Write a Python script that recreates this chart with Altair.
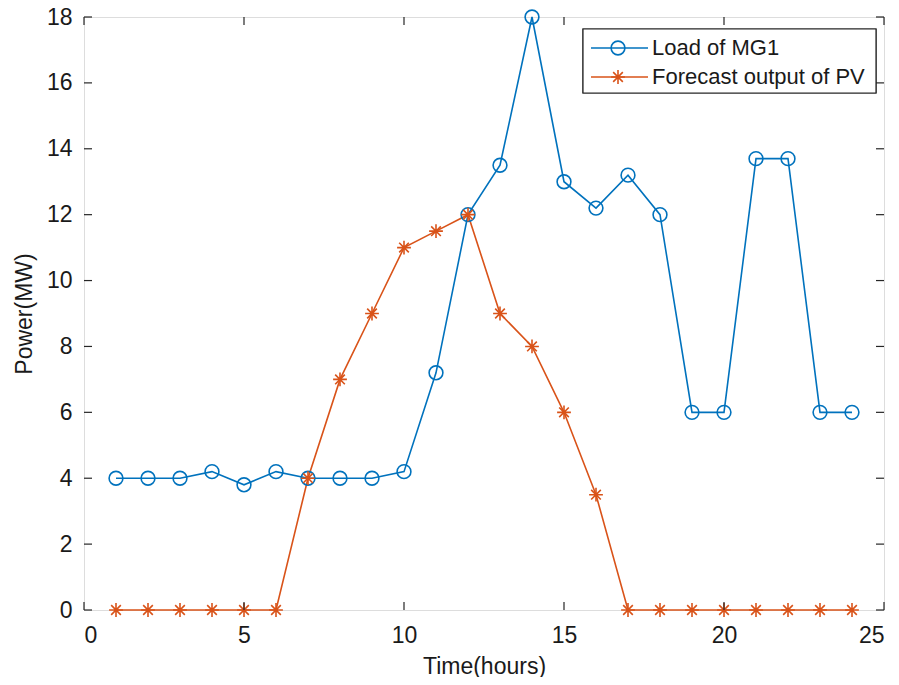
import altair as alt
import pandas as pd

hours = list(range(1, 25))
load_mg1 = [4, 4, 4, 4.2, 3.8, 4.2, 4, 4, 4, 4.2, 7.2, 12, 13.5, 18, 13, 12.2, 13.2, 12, 6, 6, 13.7, 13.7, 6, 6]
pv_forecast = [0, 0, 0, 0, 0, 0, 4, 7, 9, 11, 11.5, 12, 9, 8, 6, 3.5, 0, 0, 0, 0, 0, 0, 0, 0]
x_ticks = [0, 5, 10, 15, 20, 25]
y_ticks = [0, 2, 4, 6, 8, 10, 12, 14, 16, 18]
series_names = ["Load of MG1", "Forecast output of PV"]
colors = ["#0072BD", "#D95319"]

W, H = 800, 593
FONT = "Liberation Sans, Arial, sans-serif"
ASTERISK = "M0,-1L0,1M-1,0L1,0M-0.7,-0.7L0.7,0.7M-0.7,0.7L0.7,-0.7"
TXT = "#1a1a1a"

load_df = pd.DataFrame({"t": hours, "p": load_mg1})
pv_df = pd.DataFrame({"t": hours, "p": pv_forecast})

xs = alt.Scale(domain=[0, 25], nice=False)
ys = alt.Scale(domain=[0, 18], nice=False)

x_axis = alt.Axis(values=x_ticks, title="Time(hours)", tickSize=0, domain=False, grid=False,
                  labelPadding=14, titlePadding=8, labelFontSize=23, titleFontSize=23,
                  labelFont=FONT, titleFont=FONT, labelColor=TXT, titleColor=TXT,
                  titleFontWeight="normal")
y_axis = alt.Axis(values=y_ticks, title="Power(MW)", tickSize=0, domain=False, grid=False,
                  labelPadding=12, titlePadding=10, labelFontSize=23, titleFontSize=23,
                  labelFont=FONT, titleFont=FONT, labelColor=TXT, titleColor=TXT,
                  titleFontWeight="normal")

base_load = alt.Chart(load_df)
base_pv = alt.Chart(pv_df)

load_line = base_load.mark_line(color=colors[0], strokeWidth=1.6).encode(
    x=alt.X("t:Q", scale=xs, axis=x_axis), y=alt.Y("p:Q", scale=ys, axis=y_axis))
pv_line = base_pv.mark_line(color=colors[1], strokeWidth=1.6).encode(
    x=alt.X("t:Q", scale=xs), y=alt.Y("p:Q", scale=ys))
load_pts = base_load.mark_point(shape="circle", size=190, filled=False, color=colors[0],
                                strokeWidth=1.6, opacity=1).encode(
    x=alt.X("t:Q", scale=xs), y=alt.Y("p:Q", scale=ys))
pv_pts = base_pv.mark_point(shape=ASTERISK, size=190, filled=False, color=colors[1],
                            strokeWidth=1.6, opacity=1).encode(
    x=alt.X("t:Q", scale=xs), y=alt.Y("p:Q", scale=ys))

# inward ticks on all four sides
xt = alt.Chart(pd.DataFrame({"v": x_ticks}))
yt = alt.Chart(pd.DataFrame({"v": y_ticks}))
tick_style = dict(color="#262626", strokeWidth=1.2)
ticks = [
    xt.mark_rule(**tick_style).encode(x=alt.X("v:Q", scale=xs), y=alt.value(H), y2=alt.value(H - 8)),
    xt.mark_rule(**tick_style).encode(x=alt.X("v:Q", scale=xs), y=alt.value(0), y2=alt.value(8)),
    yt.mark_rule(**tick_style).encode(y=alt.Y("v:Q", scale=ys), x=alt.value(0), x2=alt.value(8)),
    yt.mark_rule(**tick_style).encode(y=alt.Y("v:Q", scale=ys), x=alt.value(W), x2=alt.value(W - 8)),
]

# legend
leg = alt.Chart(pd.DataFrame({"name": series_names}))
LX0, LX1, LY0, LY1 = 499, 792, 12, 76
rowy = [31, 60]
legend_box = leg.mark_rect(fill="white", stroke="#262626", strokeWidth=1.2).encode(
    x=alt.value(LX0), x2=alt.value(LX1), y=alt.value(LY0), y2=alt.value(LY1))
legend_parts = []
for i, name in enumerate(series_names):
    d = alt.Chart(pd.DataFrame({"name": [name]}))
    legend_parts.append(d.mark_rule(color=colors[i], strokeWidth=1.6).encode(
        x=alt.value(507), x2=alt.value(564), y=alt.value(rowy[i])))
    legend_parts.append(d.mark_point(shape="circle" if i == 0 else ASTERISK, size=190, filled=False,
                                     color=colors[i], strokeWidth=1.6, opacity=1).encode(
        x=alt.value(534), y=alt.value(rowy[i])))
    legend_parts.append(d.mark_text(align="left", baseline="middle", fontSize=22, font=FONT,
                                    color=TXT).encode(
        x=alt.value(568), y=alt.value(rowy[i]), text="name:N"))

chart = alt.layer(load_line, pv_line, load_pts, pv_pts, *ticks, legend_box, *legend_parts).properties(
    width=W, height=H,
    autosize=alt.AutoSizeParams(type="none"),
    padding={"left": 76, "top": 9, "right": 7, "bottom": 67},
).configure_view(stroke="#262626", strokeWidth=1.2).configure(background="white")

chart.save("out.html", embed_options={"renderer": "svg", "actions": False})
